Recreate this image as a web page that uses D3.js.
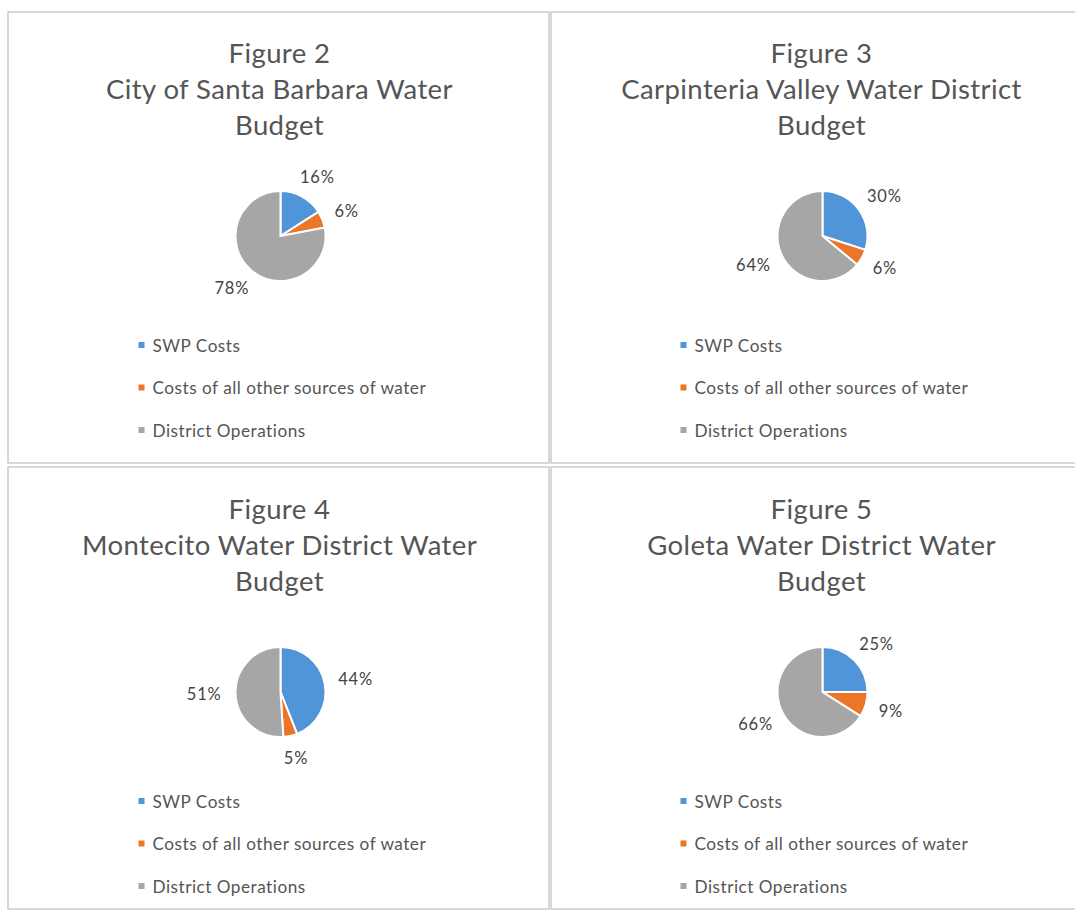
<!DOCTYPE html>
<html>
<head>
<meta charset="utf-8">
<script src="https://cdn.jsdelivr.net/npm/d3@7"></script>
<style>
    html, body { margin: 0; padding: 0; background: #fff; overflow: hidden; }
    svg { display: block; font-family: Lato, "Open Sans", sans-serif; }
</style>
</head>
<body>
<div id="chart"></div>
<script>
// data
const categories = ['SWP Costs', 'Costs of all other sources of water', 'District Operations'];
const figureNames = ['Figure 2', 'Figure 3', 'Figure 4', 'Figure 5'];
const titleLines = [
    ['City of Santa Barbara Water', 'Budget'],
    ['Carpinteria Valley Water District', 'Budget'],
    ['Montecito Water District Water', 'Budget'],
    ['Goleta Water District Water', 'Budget']
];
const swpCosts = [16, 30, 44, 25];
const otherSources = [6, 6, 5, 9];
const districtOps = [78, 64, 51, 66];
const colors = ['#5095d8', '#eb7528', '#a6a6a6'];

const width = 1075;
const height = 911;

const svg = d3.select('#chart')
    .append('svg')
    .attr('width', width)
    .attr('height', height);

// 2x2 grid of table cells, the right column runs past the page edge
const colLeft = [8, 551];
const colRight = [549, 1090];
const rowTop = [12, 467];
const rowBottom = [463, 909];
const contentTop = [12, 468];

const pie = d3.pie().sort(null).value(d => d.value);
const radius = 45;
const arc = d3.arc().innerRadius(0).outerRadius(radius);

figureNames.forEach((name, i) => {
    const c = i % 2;
    const r = Math.floor(i / 2);
    const px = colLeft[c];
    const pw = colRight[c] - colLeft[c];
    const py = rowTop[r];
    const ph = rowBottom[r] - rowTop[r];
    const cx = px + pw / 2 + 1;
    const oy = contentTop[r];

    const g = svg.append('g').attr('class', 'panel');

    g.append('rect')
        .attr('x', px)
        .attr('y', py)
        .attr('width', pw)
        .attr('height', ph)
        .attr('fill', '#fff')
        .attr('stroke', '#c4c4c4')
        .attr('stroke-width', 1.3);

    // title
    const lines = [name].concat(titleLines[i]);
    g.append('g').selectAll('text')
        .data(lines)
        .enter()
        .append('text')
        .attr('x', cx)
        .attr('y', (d, j) => oy + 51 + j * 36)
        .attr('text-anchor', 'middle')
        .attr('fill', '#555')
        .style('font-size', '27.5px')
        .style('letter-spacing', '0.4px')
        .text(d => d);

    // pie
    const slices = categories.map((cat, k) => ({
        name: cat,
        value: [swpCosts, otherSources, districtOps][k][i],
        color: colors[k]
    }));
    const arcs = pie(slices);
    const pieG = g.append('g')
        .attr('transform', `translate(${cx + 1}, ${oy + 224})`);

    pieG.selectAll('path')
        .data(arcs)
        .enter()
        .append('path')
        .attr('d', arc)
        .attr('fill', d => d.data.color)
        .attr('stroke', '#fff')
        .attr('stroke-width', 2);

    // labels outside the pie, pushed off the rim like Excel's best fit
    pieG.selectAll('text')
        .data(arcs)
        .enter()
        .append('text')
        .attr('text-anchor', 'middle')
        .attr('dominant-baseline', 'central')
        .attr('fill', '#444')
        .style('font-size', '16.5px')
        .style('letter-spacing', '0.8px')
        .text(d => d.data.value + '%')
        .each(function (d) {
            const a = (d.startAngle + d.endAngle) / 2;
            const box = this.getBBox();
            const rr = radius + 14;
            const x = Math.sin(a) * (rr + box.width / 2);
            const y = -Math.cos(a) * (rr + box.height / 2.4);
            d3.select(this).attr('x', x).attr('y', y);
        });

    // legend
    const legend = g.append('g')
        .attr('transform', `translate(${cx - 141}, ${oy + 333})`);

    const items = legend.selectAll('g')
        .data(slices)
        .enter()
        .append('g')
        .attr('transform', (d, k) => `translate(0, ${k * 42.5})`);

    items.append('rect')
        .attr('x', 0)
        .attr('y', -3)
        .attr('width', 6)
        .attr('height', 6)
        .attr('fill', d => d.color);

    items.append('text')
        .attr('x', 14)
        .attr('dominant-baseline', 'central')
        .attr('fill', '#555')
        .style('font-size', '17.2px')
        .style('letter-spacing', '0.5px')
        .text(d => d.name);
});
</script>
</body>
</html>
